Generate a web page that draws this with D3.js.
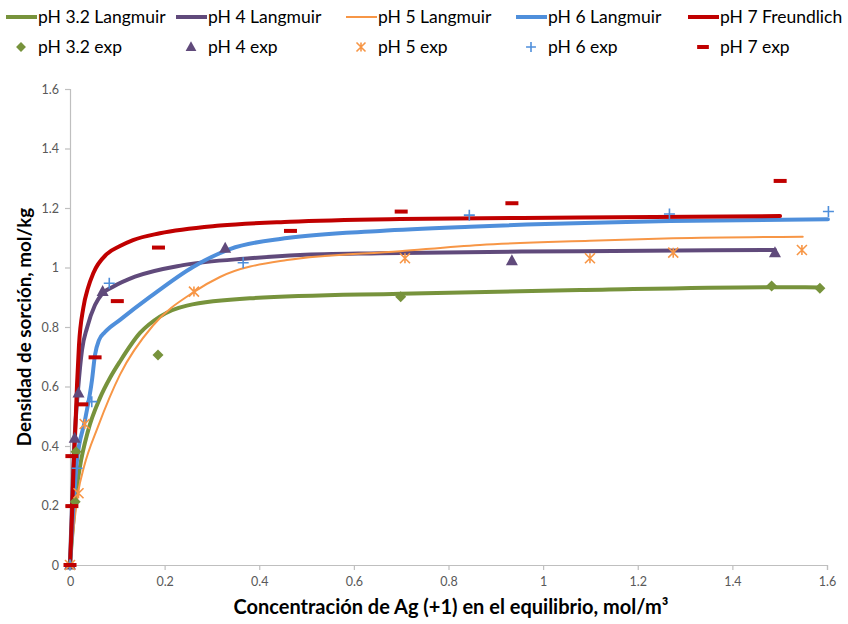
<!DOCTYPE html>
<html><head><meta charset="utf-8">
<script src="https://cdn.jsdelivr.net/npm/d3@7"></script>
<style>
body{margin:0;background:#fff;}
svg{display:block;font-family:Lato,"Open Sans",sans-serif;}
</style></head>
<body><svg id="c" width="848" height="624"></svg>
<script>
// ---- Data ----
const xTicks = [0,0.2,0.4,0.6,0.8,1,1.2,1.4,1.6];
const yTicks = [0,0.2,0.4,0.6,0.8,1,1.2,1.4,1.6];
const xTickLabels = ["0","0.2","0.4","0.6","0.8","1","1.2","1.4","1.6"];
const yTickLabels = ["0","0.2","0.4","0.6","0.8","1","1.2","1.4","1.6"];

const ph32Langmuir = [[0,0],[0.0106,0.212],[0.021,0.33],[0.038,0.45],[0.063,0.56],[0.085,0.63],[0.106,0.685],[0.148,0.78],[0.19,0.835],[0.247,0.872],[0.387,0.897],[0.698,0.912],[1.078,0.924],[1.484,0.934],[1.585,0.933]];
const ph4Langmuir = [[0,0],[0.0095,0.42],[0.0169,0.588],[0.0254,0.723],[0.0359,0.797],[0.0528,0.874],[0.0676,0.911],[0.0909,0.935],[0.1374,0.969],[0.2389,1.008],[0.3805,1.031],[0.4862,1.042],[0.6553,1.048],[1.078,1.055],[1.490,1.059]];
const ph5Langmuir = [[0,0],[0.0169,0.242],[0.0296,0.33],[0.0592,0.465],[0.1057,0.64],[0.1754,0.805],[0.2621,0.918],[0.317,0.968],[0.4587,1.025],[0.6975,1.055],[0.8666,1.076],[1.099,1.090],[1.2746,1.098],[1.5487,1.1035]];
const ph6Langmuir = [[0,0],[0.0142,0.343],[0.0317,0.487],[0.0465,0.622],[0.0528,0.706],[0.0613,0.756],[0.074,0.783],[0.1057,0.824],[0.169,0.901],[0.26,1.002],[0.338,1.062],[0.4587,1.099],[0.655,1.123],[0.8455,1.137],[1.268,1.156],[1.602,1.162]];
const ph7Freundlich = [[0,0],[0.0032,0.118],[0.0074,0.319],[0.0112,0.454],[0.0148,0.605],[0.019,0.739],[0.0281,0.864],[0.038,0.931],[0.0492,0.981],[0.0776,1.045],[0.1057,1.072],[0.1332,1.092],[0.19,1.115],[0.317,1.141],[0.465,1.154],[0.6975,1.163],[1.078,1.168],[1.5008,1.173]];

const ph32Exp = [[0,0],[0.011,0.213],[0.0127,0.381],[0.186,0.706],[0.699,0.902],[1.483,0.938],[1.585,0.930]];
const ph4Exp = [[0,0],[0.0099,0.426],[0.018,0.578],[0.069,0.919],[0.328,1.065],[0.934,1.023],[1.490,1.050]];
const ph5Exp = [[0,0],[0.018,0.241],[0.031,0.474],[0.262,0.919],[0.708,1.031],[1.099,1.031],[1.275,1.050],[1.547,1.059]];
const ph6Exp = [[0,0],[0.015,0.325],[0.046,0.549],[0.083,0.947],[0.366,1.016],[0.844,1.176],[1.267,1.180],[1.603,1.188]];
const ph7Exp = [[0,0],[0.004,0.198],[0.004,0.366],[0.025,0.540],[0.053,0.698],[0.100,0.887],[0.187,1.067],[0.466,1.123],[0.700,1.188],[0.934,1.216],[1.501,1.291]];

const lineNames = ["pH 3.2 Langmuir","pH 4 Langmuir","pH 5 Langmuir","pH 6 Langmuir","pH 7 Freundlich"];
const expNames = ["pH 3.2 exp","pH 4 exp","pH 5 exp","pH 6 exp","pH 7 exp"];
const xTitle = "Concentración de Ag (+1) en el equilibrio, mol/m³";
const yTitle = "Densidad de sorción, mol/kg";

// ---- Styles ----
const colors = ["#77933C","#604A7B","#F79646","#4F8FDB","#C00000"];
const widths = [4,4,2,4,4];
const markers = ["diamond","triangle","asterisk","plus","dash"];

const svg = d3.select("#c");
const M = {left:70, right:827, top:89, bottom:565};
const x = d3.scaleLinear().domain([0,1.6]).range([M.left,M.right]);
const y = d3.scaleLinear().domain([0,1.6]).range([M.bottom,M.top]);

// axes
const axisColor = "#BFBFBF";
const gx = svg.append("g").attr("transform",`translate(0,${M.bottom})`)
  .call(d3.axisBottom(x).tickValues(xTicks).tickFormat((d,i)=>xTickLabels[i]).tickSizeOuter(0).tickSize(5).tickPadding(7));
const gy = svg.append("g").attr("transform",`translate(${M.left},0)`)
  .call(d3.axisLeft(y).tickValues(yTicks).tickFormat((d,i)=>yTickLabels[i]).tickSizeOuter(0).tickSize(5).tickPadding(6));
[gx,gy].forEach(g=>{
  g.selectAll("path").attr("stroke",axisColor).attr("stroke-width",1.2);
  g.selectAll("line").attr("stroke",axisColor).attr("stroke-width",1.2);
  g.selectAll("text").attr("fill","#595959").attr("font-size",12.5).attr("font-family","Lato,'Open Sans',sans-serif");
});

// curves
const lineGen = d3.line().x(d=>x(d[0])).y(d=>y(d[1])).curve(d3.curveMonotoneX);
const curves = [ph32Langmuir,ph4Langmuir,ph5Langmuir,ph6Langmuir,ph7Freundlich];
curves.forEach((data,i)=>{
  svg.append("path").datum(data).attr("d",lineGen)
    .attr("fill","none").attr("stroke",colors[i]).attr("stroke-width",widths[i])
    .attr("stroke-linejoin","round").attr("stroke-linecap","round");
});

// markers
function drawMarker(g, type, cx, cy, color, s){
  s = s||1;
  if(type==="diamond"){
    g.append("path").attr("d",`M${cx},${cy-5.5*s}L${cx+5.5*s},${cy}L${cx},${cy+5.5*s}L${cx-5.5*s},${cy}Z`).attr("fill",color);
  } else if(type==="triangle"){
    g.append("path").attr("d",`M${cx},${cy-6.5*s}L${cx+6*s},${cy+4.5*s}L${cx-6*s},${cy+4.5*s}Z`).attr("fill",color);
  } else if(type==="asterisk"){
    const r=5*s;
    g.append("path").attr("d",`M${cx-r},${cy-r}L${cx+r},${cy+r}M${cx+r},${cy-r}L${cx-r},${cy+r}M${cx},${cy-r}L${cx},${cy+r}`)
      .attr("stroke",color).attr("stroke-width",1.6).attr("fill","none");
  } else if(type==="plus"){
    const r=5.5*s;
    g.append("path").attr("d",`M${cx-r},${cy}L${cx+r},${cy}M${cx},${cy-r}L${cx},${cy+r}`)
      .attr("stroke",color).attr("stroke-width",1.6).attr("fill","none");
  } else if(type==="dash"){
    g.append("rect").attr("x",cx-6.5*s).attr("y",cy-2).attr("width",13*s).attr("height",4).attr("fill",color);
  }
}
const exps = [ph32Exp,ph4Exp,ph5Exp,ph6Exp,ph7Exp];
exps.forEach((data,i)=>{
  const g = svg.append("g");
  data.forEach(d=>drawMarker(g,markers[i],x(d[0]),y(d[1]),colors[i]));
});

// legend
const legX = [6,176,346,516,688];
const leg = svg.append("g").attr("font-size",17.5).attr("fill","#000");
lineNames.forEach((n,i)=>{
  leg.append("line").attr("x1",legX[i]).attr("x2",legX[i]+31).attr("y1",17).attr("y2",17)
    .attr("stroke",colors[i]).attr("stroke-width",widths[i]);
  leg.append("text").attr("x",legX[i]+32).attr("y",17).attr("dy","0.35em").text(n);
});
expNames.forEach((n,i)=>{
  drawMarker(leg,markers[i],legX[i]+15,47,colors[i],0.9);
  leg.append("text").attr("x",legX[i]+32).attr("y",47).attr("dy","0.35em").text(n);
});

// titles
svg.append("text").attr("x",451).attr("y",607).attr("dy","0.35em")
  .attr("text-anchor","middle").attr("font-weight","bold").attr("font-size",20).attr("fill","#000").text(xTitle);
svg.append("text").attr("transform",`translate(24,327) rotate(-90)`).attr("dy","0.35em")
  .attr("text-anchor","middle").attr("font-weight","bold").attr("font-size",18.8).attr("fill","#000").text(yTitle);
</script></body></html>
